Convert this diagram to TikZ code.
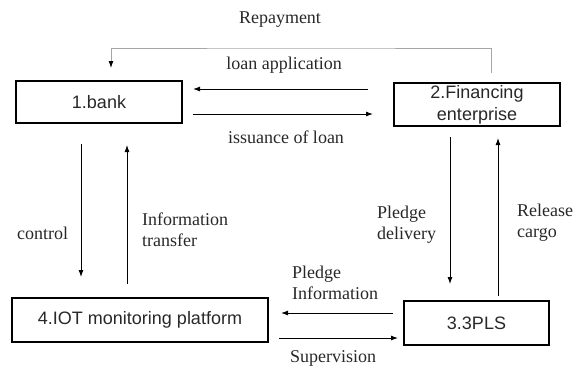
\documentclass[tikz,border=0pt]{standalone}
\usepackage{fontspec}
\setmainfont{Liberation Serif}
\newfontfamily\boxfont{Liberation Sans}
\usetikzlibrary{arrows.meta}
\definecolor{txtgray}{RGB}{40,40,40}
\begin{document}
\begin{tikzpicture}[x=1pt,y=-1pt,
  boxnode/.style={draw=black, line width=1.1pt, inner sep=0pt, text=txtgray, font=\boxfont\fontsize{18}{22}\selectfont, align=center},
  lbl/.style={inner sep=0pt, text=txtgray, font=\fontsize{18}{21}\selectfont, align=left},
  arr/.style={line width=0.9pt, -{Latex[length=7pt,width=5pt]}},
  grayarr/.style={line width=0.9pt, draw=gray!70, -{Latex[length=7pt,width=5pt,color=black]}}
]
\useasboundingbox (0,0) rectangle (582,368);

% boxes
\node[boxnode, minimum width=166pt, minimum height=42pt] (bank) at (99,102) {1.bank};
\node[boxnode, minimum width=166pt, minimum height=43pt] (fin) at (477,104.5) {2.Financing\\enterprise};
\node[boxnode, minimum width=256pt, minimum height=44pt] (iot) at (140,320) {4.IOT monitoring platform};
\node[boxnode, minimum width=145pt, minimum height=44pt] (tpl) at (476.5,323) {3.3PLS};

% connector end points
\coordinate (rp1) at (491,73);
\coordinate (rp2) at (111,68);
\coordinate (la1) at (368,89);
\coordinate (la2) at (193,89);
\coordinate (il1) at (193,114);
\coordinate (il2) at (373,114);
\coordinate (ct1) at (81,144);
\coordinate (ct2) at (81,277);
\coordinate (it1) at (127,284);
\coordinate (it2) at (127,145);
\coordinate (pd1) at (450,137);
\coordinate (pd2) at (450,284);
\coordinate (rc1) at (498,296);
\coordinate (rc2) at (498,138);
\coordinate (pi1) at (393,313);
\coordinate (pi2) at (281,313);
\coordinate (sv1) at (279,338);
\coordinate (sv2) at (398,338);

% connectors
\draw[grayarr] (rp1) |- (301,48) -| (rp2);
\draw[arr] (la1) -- (la2);
\draw[arr] (il1) -- (il2);
\draw[arr] (ct1) -- (ct2);
\draw[arr] (it1) -- (it2);
\draw[arr] (pd1) -- (pd2);
\draw[arr] (rc1) -- (rc2);
\draw[arr] (pi1) -- (pi2);
\draw[arr] (sv1) -- (sv2);

% labels
\node[lbl] (lrep) at (280,20) {Repayment};
\node[lbl] (lla) at (284,65) {loan application};
\node[lbl] (lil) at (286,137) {issuance of loan};
\node[lbl, anchor=west] (lct) at (17,233) {control};
\node[lbl, anchor=west] (lit) at (142,229.5) {Information\\transfer};
\node[lbl, anchor=west] (lpd) at (377,224.5) {Pledge\\delivery};
\node[lbl, anchor=west] (lrc) at (517,222.5) {Release\\cargo};
\node[lbl, anchor=west] (lpi) at (292,283) {Pledge\\Information};
\node[lbl, anchor=west] (lsv) at (290,358) {Supervision};
\end{tikzpicture}
\end{document}
